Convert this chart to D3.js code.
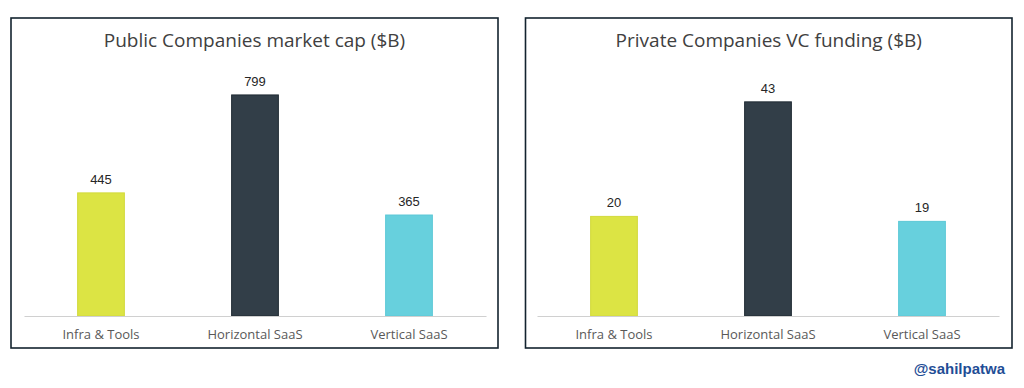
<!DOCTYPE html>
<html>
<head>
<meta charset="utf-8">
<script src="https://cdn.jsdelivr.net/npm/d3@7"></script>
<style>
  body { margin: 0; background: #fff; }
  svg { display: block; }
</style>
</head>
<body>
<svg id="chart" width="1024" height="388"></svg>
<script>
// data
var categories = ['Infra & Tools', 'Horizontal SaaS', 'Vertical SaaS'];
var publicCap = [445, 799, 365];
var privateVC = [20, 43, 19];
var barColors = ['#dce444', '#323e48', '#67d0dd'];
var barStrokes = ['#d2da3c', '#1f2a33', '#5cc8d6'];

var svg = d3.select('#chart');

// draw one panel
function drawPanel(x0, x1, title, values, yMax, axisL, axisR){
    var g = svg.append('g');

    g.append('rect')
        .attr('x', x0).attr('y', 18)
        .attr('width', x1 - x0).attr('height', 330)
        .attr('fill', '#fff')
        .attr('stroke', '#13232f')
        .attr('stroke-width', 1.6);

    g.append('text')
        .attr('x', (x0 + x1) / 2)
        .attr('y', 47)
        .attr('text-anchor', 'middle')
        .style('font-family', 'Open Sans, sans-serif')
        .style('font-size', '19px')
        .style('fill', '#404040')
        .text(title);

    var xScale = d3.scaleBand()
        .domain(categories)
        .range([axisL, axisR])
        .paddingInner(0.69)
        .paddingOuter(0.345);
    var yScale = d3.scaleLinear()
        .domain([0, yMax])
        .range([316, 67]);

    g.selectAll('.bar')
        .data(values)
        .enter().append('rect')
        .attr('class', 'bar')
        .attr('x', function(d, i){ return xScale(categories[i]) + 0.5; })
        .attr('width', xScale.bandwidth() - 1)
        .attr('y', function(d){ return yScale(d); })
        .attr('height', function(d){ return yScale(0) - yScale(d); })
        .attr('fill', function(d, i){ return barColors[i]; })
        .attr('stroke', function(d, i){ return barStrokes[i]; })
        .attr('stroke-width', 1);

    g.selectAll('.val')
        .data(values)
        .enter().append('text')
        .attr('class', 'val')
        .attr('x', function(d, i){ return xScale(categories[i]) + xScale.bandwidth() / 2; })
        .attr('y', function(d){ return yScale(d) - 9; })
        .attr('text-anchor', 'middle')
        .style('font-family', 'Liberation Sans, Arial, sans-serif')
        .style('font-size', '13px')
        .style('fill', '#262626')
        .text(function(d){ return d; });

    // axis
    var xAxis = d3.axisBottom(xScale).tickSize(0).tickPadding(14);
    var ax = g.append('g')
        .attr('transform', 'translate(0,316)')
        .call(xAxis);
    ax.select('.domain').attr('stroke', '#d0d0d0').attr('stroke-width', 1.2);
    ax.selectAll('text')
        .style('font-family', 'Open Sans, sans-serif')
        .style('font-size', '13px')
        .style('fill', '#595959');
}

drawPanel(11, 498, 'Public Companies market cap ($B)', publicCap, 900, 24, 486);
drawPanel(525.5, 1012, 'Private Companies VC funding ($B)', privateVC, 50, 537, 999);

svg.append('text')
    .attr('x', 1005)
    .attr('y', 374)
    .attr('text-anchor', 'end')
    .style('font-family', 'Liberation Sans, Arial, sans-serif')
    .style('font-weight', 'bold')
    .style('font-size', '15px')
    .style('fill', '#1f4e96')
    .text('@sahilpatwa');
</script>
</body>
</html>
